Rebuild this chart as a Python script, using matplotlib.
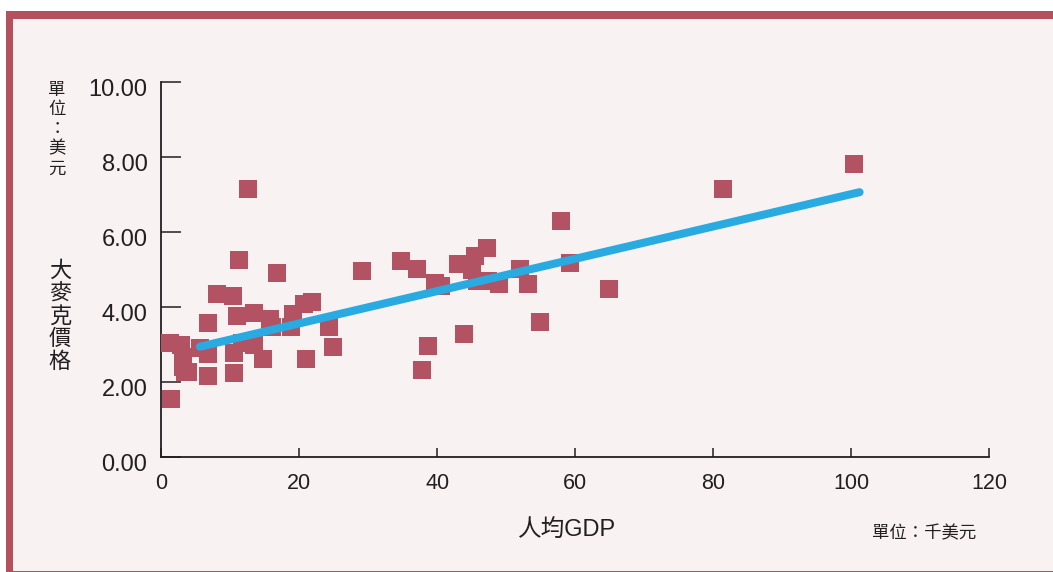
import matplotlib
matplotlib.use("Agg")
import matplotlib.pyplot as plt
from matplotlib.patches import Rectangle
from matplotlib.transforms import ScaledTranslation

# ---- data ----
gdp = [11.3, 16.7, 8.1, 10.4, 10.9, 13.5, 6.7, 15.8, 16.1, 19.1, 18.8, 20.7, 21.9,
       24.3, 24.9, 21.0, 14.8, 10.6, 10.6, 6.7, 11.7, 13.5, 1.3, 2.8, 3.2, 3.2, 3.5,
       3.9, 5.65, 6.8, 1.45, 29.1, 34.8, 37.1, 39.6, 40.6, 43.0, 45.5, 47.2, 45.1,
       45.7, 47.4, 49.0, 52.0, 53.2, 54.9, 43.9, 38.6, 37.8, 81.4, 100.4, 64.9, 57.9,
       59.3, 12.5]
price = [5.25, 4.91, 4.35, 4.29, 3.76, 3.84, 3.57, 3.68, 3.47, 3.81, 3.47, 4.08, 4.13,
         3.47, 2.93, 2.61, 2.61, 2.77, 2.24, 2.16, 3.04, 2.99, 3.04, 2.99, 2.67, 2.42,
         2.28, 2.27, 2.91, 2.75, 1.55, 4.96, 5.23, 5.01, 4.64, 4.56, 5.15, 5.36, 5.57,
         4.99, 4.69, 4.69, 4.61, 5.01, 4.61, 3.60, 3.28, 2.96, 2.32, 7.15, 7.81, 4.48,
         6.30, 5.17, 7.15]
trend_x = [5.6, 101.2]
trend_y = [2.95, 7.07]
x_ticks = [0, 20, 40, 60, 80, 100, 120]
y_ticks = [0, 2, 4, 6, 8, 10]
y_ticklabels = ["0.00", "2.00", "4.00", "6.00", "8.00", "10.00"]

W, H = 1053, 572
fig = plt.figure(figsize=(W / 100, H / 100), dpi=100, facecolor="white")

pink = "#b5515f"
bg = "#f8f2f2"
txt = "#231f20"

# frame
fig.patches.append(Rectangle((6 / W, 0), 1 - 6 / W, (H - 11) / H, transform=fig.transFigure,
                             facecolor=pink, edgecolor="none", zorder=-10))
fig.patches.append(Rectangle((13 / W, 1.5 / H), 1 - 13 / W, (H - 19 - 1.5) / H,
                             transform=fig.transFigure, facecolor=bg, edgecolor="none", zorder=-9))

ax = fig.add_axes([161.3 / W, 1 - 457.3 / H, (989.3 - 161.3) / W, (457.3 - 82.3) / H])
ax.set_zorder(2)
ax.set_facecolor("none")
ax.set_xlim(0, 120)
ax.set_ylim(0, 10)
for s in ["top", "right"]:
    ax.spines[s].set_visible(False)
for s in ["left", "bottom"]:
    ax.spines[s].set_color(txt)
    ax.spines[s].set_linewidth(1.3)
    ax.spines[s].set_zorder(1)

num_font = ["Liberation Sans", "Noto Sans CJK TC"]
ax.set_xticks(x_ticks)
ax.set_xticklabels([str(v) for v in x_ticks], fontsize=15.5, color=txt, family=num_font)
ax.set_yticks(y_ticks)
ax.set_yticklabels(y_ticklabels, fontsize=17, color=txt, family=num_font)
ax.tick_params(axis="y", direction="in", length=14.5, width=1.1, color=txt, pad=10)
ax.tick_params(axis="x", direction="in", length=6.5, width=1.1, color=txt, pad=11)
shift = ScaledTranslation(0, -5 / 100, fig.dpi_scale_trans)
for lab in ax.get_yticklabels():
    lab.set_transform(lab.get_transform() + shift)

ax.scatter(gdp, price, marker="s", s=152, color="#b35263", linewidths=0, zorder=3,
           clip_on=False)
ax.plot(trend_x, trend_y, color="#29abe2", lw=5.8, solid_capstyle="round", zorder=4)

cjk = ["Noto Sans CJK TC", "DejaVu Sans"]
fig.text(57 / W, 1 - 129 / H, "單\n位\n：\n美\n元", family=cjk, fontsize=12.5, color=txt,
         ha="center", va="center", linespacing=1.12)
fig.text(60 / W, 1 - 316 / H, "大\n麥\n克\n價\n格", family=cjk, fontsize=16, color=txt,
         ha="center", va="center", linespacing=0.98)
fig.text(567 / W, 1 - 531 / H, "人均GDP", family=num_font, fontsize=17, color=txt,
         ha="center", va="center")
fig.text(924 / W, 1 - 533 / H, "單位：千美元", family=cjk, fontsize=12.5, color=txt,
         ha="center", va="center")

fig.savefig("out.png", dpi=100, facecolor="white")
